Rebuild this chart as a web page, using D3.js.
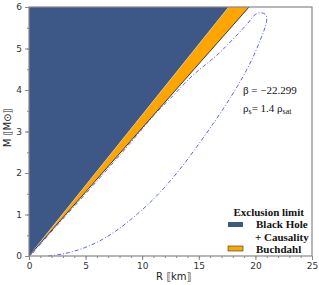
<!DOCTYPE html>
<html>
<head>
<meta charset="utf-8">
<script src="https://cdn.jsdelivr.net/npm/d3@7"></script>
<style>
  body { margin: 0; background: #fff; }
  svg { display: block; }
</style>
</head>
<body>
<script>
// chart values
var xTicks = [0, 5, 10, 15, 20, 25];
var yTicks = [0, 1, 2, 3, 4, 5, 6];
var bhRatio = 2.94;     // R/M on the black hole + causality edge (km per Msun)
var buchRatio = 3.24;   // R/M on the Buchdahl edge
// mass-radius loop: outer branch up, then back down along the Buchdahl edge
var curveR = [1.7, 3.0, 4.5, 6.0, 7.5, 9.0, 10.5, 12.0, 13.5, 15.0, 16.5, 17.8, 18.9, 19.8, 20.5, 20.9, 21.0,
              20.85, 20.5, 20.0, 19.3, 18.0, 16.6, 14.5, 12.5, 11.3, 8.25, 5.0, 1.7, 0.1];
var curveM = [0, 0.05, 0.16, 0.33, 0.57, 0.88, 1.24, 1.66, 2.15, 2.7, 3.28, 3.82, 4.32, 4.8, 5.25, 5.55, 5.75,
              5.83, 5.86, 5.82, 5.6, 5.22, 4.84, 4.36, 3.8, 3.47, 2.5, 1.5, 0.5, 0];
var legendNames = ["Black Hole", "+ Causality", "Buchdahl"];

draw_chart();

function draw_chart() {

    var width = 319, height = 285;
    var padLeft = 29, padRight = 312, padTop = 7, padBottom = 256;

    var svg = d3.select("body").append("svg")
        .attr("width", width)
        .attr("height", height);

    var x = d3.scaleLinear().domain([0, 25]).range([padLeft, padRight]);
    var y = d3.scaleLinear().domain([0, 6]).range([padBottom, padTop]);

    // Black hole + causality region
    var bhTop = 6 * bhRatio;
    var buchTop = 6 * buchRatio;
    svg.append("path")
        .attr("d", d3.line()([[x(0), y(0)], [x(0), y(6)], [x(bhTop), y(6)]]) + "Z")
        .attr("fill", "#3d5886");

    // Buchdahl band
    svg.append("path")
        .attr("d", d3.line()([[x(0), y(0)], [x(bhTop), y(6)], [x(buchTop), y(6)]]) + "Z")
        .attr("fill", "#ffa500");

    svg.append("line")
        .attr("x1", x(0)).attr("y1", y(0))
        .attr("x2", x(bhTop)).attr("y2", y(6))
        .attr("stroke", "#c8c8c8").attr("stroke-width", 0.7);

    svg.append("line")
        .attr("x1", x(0)).attr("y1", y(0))
        .attr("x2", x(buchTop)).attr("y2", y(6))
        .attr("stroke", "#111").attr("stroke-width", 0.8);

    // mass-radius curve
    var pts = curveR.map(function(r, i) { return [x(r), y(curveM[i])]; });
    svg.append("path")
        .attr("d", d3.line().curve(d3.curveCatmullRom.alpha(0.5))(pts))
        .attr("fill", "none")
        .attr("stroke", "#4d4dff")
        .attr("stroke-width", 0.9)
        .attr("stroke-dasharray", "4,2,1,2");

    // minor ticks
    svg.append("g")
        .attr("transform", "translate(0," + padBottom + ")")
        .call(d3.axisBottom(x).ticks(25).tickSize(2).tickFormat(""));
    svg.append("g")
        .attr("transform", "translate(" + padLeft + ",0)")
        .call(d3.axisLeft(y).ticks(12).tickSize(2).tickFormat(""));

    // major ticks
    svg.append("g")
        .attr("transform", "translate(0," + padBottom + ")")
        .call(d3.axisBottom(x).tickValues(xTicks).tickSize(4).tickPadding(3).tickFormat(d3.format("d")));
    svg.append("g")
        .attr("transform", "translate(" + padLeft + ",0)")
        .call(d3.axisLeft(y).tickValues(yTicks).tickSize(4).tickPadding(3).tickFormat(d3.format("d")));

    svg.selectAll(".tick line").attr("stroke", "#888");
    svg.selectAll(".domain").remove();
    svg.selectAll(".tick text")
        .attr("font-family", "DejaVu Sans, sans-serif")
        .attr("font-size", "9px")
        .attr("fill", "#333");

    // frame
    svg.append("rect")
        .attr("x", padLeft).attr("y", padTop)
        .attr("width", padRight - padLeft).attr("height", padBottom - padTop)
        .attr("fill", "none")
        .attr("stroke", "#888")
        .attr("stroke-width", 1.2);

    // axis titles
    svg.append("text")
        .attr("x", 156).attr("y", 280)
        .attr("font-family", "DejaVu Sans, sans-serif")
        .attr("font-size", "10px")
        .attr("fill", "#222")
        .text("R ⟦km⟧");

    svg.append("text")
        .attr("transform", "translate(11,128) rotate(-90)")
        .attr("text-anchor", "middle")
        .attr("font-family", "DejaVu Sans, sans-serif")
        .attr("font-size", "10px")
        .attr("fill", "#222")
        .text("M ⟦M⊙⟧");

    // annotation
    var note = svg.append("g")
        .attr("font-family", "Liberation Serif, serif")
        .attr("font-size", "11px")
        .attr("fill", "#111");
    note.append("text").attr("x", 243).attr("y", 94).text("β = −22.299");
    var t2 = note.append("text").attr("x", 243).attr("y", 112);
    t2.append("tspan").text("ρ");
    t2.append("tspan").attr("font-size", "8px").attr("dy", 2).text("s");
    t2.append("tspan").attr("dy", -2).text("= 1.4 ρ");
    t2.append("tspan").attr("font-size", "8px").attr("dy", 2).text("sat");

    // legend
    var leg = svg.append("g")
        .attr("font-family", "Liberation Serif, serif")
        .attr("font-size", "11px")
        .attr("font-weight", "bold")
        .attr("fill", "#111");
    leg.append("text").attr("x", 304).attr("y", 216).attr("text-anchor", "end").text("Exclusion limit");
    leg.append("rect").attr("x", 228).attr("y", 222).attr("width", 15).attr("height", 5)
        .attr("fill", "#3d5886");
    leg.append("rect").attr("x", 228).attr("y", 246).attr("width", 15).attr("height", 5)
        .attr("fill", "#ffa500").attr("stroke", "#333").attr("stroke-width", 0.6);
    leg.append("text").attr("x", 256).attr("y", 228).text(legendNames[0]);
    leg.append("text").attr("x", 255).attr("y", 241).text(legendNames[1]);
    leg.append("text").attr("x", 256).attr("y", 253).text(legendNames[2]);
}
</script>
</body>
</html>
